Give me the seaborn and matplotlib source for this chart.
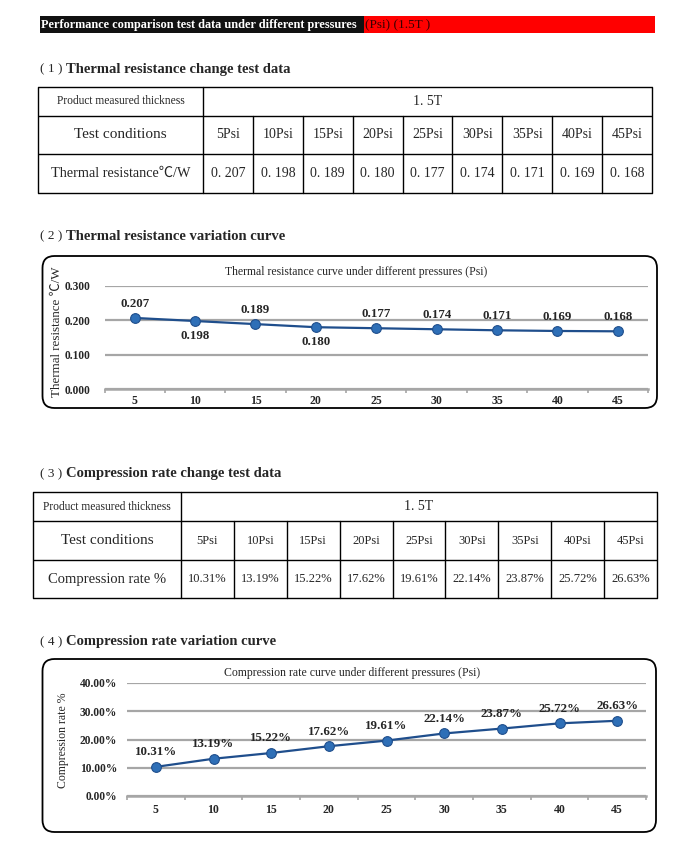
import numpy as np
import pandas as pd
import seaborn as sns
import matplotlib.pyplot as plt
from matplotlib.patches import FancyBboxPatch, Rectangle
from matplotlib.ticker import FixedLocator

# Data
pressures = [5, 10, 15, 20, 25, 30, 35, 40, 45]
psi_labels = ["5Psi", "10Psi", "15Psi", "20Psi", "25Psi", "30Psi", "35Psi", "40Psi", "45Psi"]
thermal_res = [0.207, 0.198, 0.189, 0.180, 0.177, 0.174, 0.171, 0.169, 0.168]
thermal_below = [False, True, False, True, False, False, False, False, False]
compression = [10.31, 13.19, 15.22, 17.62, 19.61, 22.14, 23.87, 25.72, 26.63]
thickness = "1. 5T"

sns.set_theme(style="white")
plt.rcParams["font.family"] = ["Liberation Serif", "Noto Sans CJK SC", "DejaVu Sans"]

W, H = 700, 848
fig = plt.figure(figsize=(7, 8.48), dpi=100)
fig.patch.set_facecolor("white")

page = fig.add_axes([0, 0, 1, 1])
page.set_xlim(0, W)
page.set_ylim(H, 0)
page.axis("off")
page.set_zorder(0)


def px_rect(x0, y0, x1, y1):
    return [x0 / W, 1 - y1 / H, (x1 - x0) / W, (y1 - y0) / H]


# Header bar
page.add_patch(Rectangle((40, 16), 324, 17, color="#111111", lw=0))
page.add_patch(Rectangle((364, 16), 291, 17, color="#ff0000", lw=0))
page.text(41, 24.8, "Performance comparison test data under different pressures",
          color="white", fontsize=8.8, fontweight="bold", va="center")
page.text(365, 24.8, "(Psi) (1.5T )", color="#3a0000", fontsize=9.5, va="center")


def section_title(y, num, text):
    page.text(40, y, f"( {num} )", fontsize=9.5, va="center")
    page.text(66, y, text, fontsize=10.5, fontweight="bold", va="center")


def draw_table(x0, x1, sep, ys, row_titles, values, fs_vals, fs_title):
    lw = 1.0
    ncol = len(values[0])
    colw = (x1 - sep) / ncol
    for y in ys:
        page.plot([x0, x1], [y, y], color="black", lw=lw, solid_capstyle="butt")
    page.plot([x0, x0], [ys[0], ys[-1]], color="black", lw=lw)
    page.plot([x1, x1], [ys[0], ys[-1]], color="black", lw=lw)
    page.plot([sep, sep], [ys[0], ys[-1]], color="black", lw=lw)
    for i in range(1, ncol):
        xc = sep + i * colw
        page.plot([xc, xc], [ys[1], ys[-1]], color="black", lw=lw)
    # first row is merged across the value columns
    yc = (ys[0] + ys[1]) / 2
    page.text((x0 + sep) / 2, yc, "Product measured thickness", fontsize=8.3,
              ha="center", va="center")
    page.text((sep + x1) / 2, yc, thickness, fontsize=10, ha="center", va="center")
    for r in range(2):
        yc = (ys[r + 1] + ys[r + 2]) / 2
        page.text((x0 + sep) / 2, yc, row_titles[r], fontsize=fs_title[r],
                  ha="center", va="center")
        for i, v in enumerate(values[r]):
            page.text(sep + (i + 0.5) * colw, yc, v, fontsize=fs_vals[r],
                      ha="center", va="center")


def rounded_box(x0, y0, x1, y1):
    page.add_patch(FancyBboxPatch((x0, y0), x1 - x0, y1 - y0,
                                  boxstyle="round,pad=0,rounding_size=12",
                                  fc="none", ec="black", lw=1.3))


line_c = "#1F4E8C"
mark_c = "#2E6FB7"
grid_c = "#A6A6A6"


def style_chart(ax, ymax, ystep, yfmt, label_pad, xpad):
    ax.set_facecolor("none")
    ax.set_xlim(2.5, 47.5)
    ax.set_ylim(0, ymax)
    yt = np.arange(0, ymax + ystep / 2, ystep)
    ax.set_yticks(yt)
    ax.set_yticklabels([yfmt(v) for v in yt], fontweight="bold", fontsize=8.3)
    ax.set_xticks(pressures)
    ax.set_xticklabels([str(p) for p in pressures], fontweight="bold", fontsize=8.5)
    ax.xaxis.set_minor_locator(FixedLocator(np.arange(2.5, 48, 5)))
    ax.tick_params(axis="x", which="major", length=0, pad=xpad)
    ax.tick_params(axis="x", which="minor", length=3, width=1.2, color=grid_c,
                   direction="out", bottom=True)
    ax.tick_params(axis="y", length=0, pad=label_pad)
    ax.yaxis.grid(True, color=grid_c, lw=1.6)
    ax.set_axisbelow(True)
    for s in ["top", "right", "left"]:
        ax.spines[s].set_visible(False)
    ax.spines["bottom"].set_color(grid_c)
    ax.spines["bottom"].set_linewidth(1.8)
    ax.set_xlabel("")
    ax.set_ylabel("")


# (1) Thermal resistance table
section_title(69, 1, "Thermal resistance change test data")
draw_table(38, 652, 203, [87, 116, 154, 193],
           ["Test conditions", "Thermal resistance℃/W"],
           [psi_labels, [f"{v:.3f}".replace(".", ". ") for v in thermal_res]],
           fs_vals=[10, 10], fs_title=[11, 10.3])

# (2) Thermal resistance curve
section_title(236, 2, "Thermal resistance variation curve")
rounded_box(42.5, 256, 657, 408)
page.text(356, 272, "Thermal resistance curve under different pressures (Psi)",
          fontsize=8.5, ha="center", va="center")
page.text(57, 332, "Thermal resistance ℃/W", fontsize=9.4, rotation=90,
          ha="center", va="center")

ax2 = fig.add_axes(px_rect(104.5, 286, 648, 389))
ax2.set_zorder(2)
df_t = pd.DataFrame({"pressure": pressures, "value": thermal_res})
sns.lineplot(data=df_t, x="pressure", y="value", ax=ax2, color=line_c, lw=1.6,
             marker="o", markersize=7, markerfacecolor=mark_c,
             markeredgecolor=line_c, markeredgewidth=0.8)
style_chart(ax2, 0.3, 0.1, lambda v: f"{v:.3f}", 10, 4)
for p, v, below in zip(pressures, thermal_res, thermal_below):
    ax2.annotate(f"{v:.3f}", (p, v), xytext=(0, -11 if below else 10),
                 textcoords="offset points", ha="center", va="center",
                 fontsize=9.3, fontweight="bold")

# (3) Compression rate table
section_title(474, 3, "Compression rate change test data")
draw_table(33, 657, 181, [492, 521, 560, 598],
           ["Test conditions", "Compression rate %"],
           [psi_labels, [f"{v:.2f}%" for v in compression]],
           fs_vals=[9, 9], fs_title=[11, 10.5])

# (4) Compression rate curve
section_title(642, 4, "Compression rate variation curve")
rounded_box(42.5, 659, 656, 832)
page.text(352, 673, "Compression rate curve under different pressures (Psi)",
          fontsize=8.5, ha="center", va="center")
page.text(63, 740, "Compression rate %", fontsize=8.5, rotation=90,
          ha="center", va="center")

ax4 = fig.add_axes(px_rect(127, 683, 646, 796))
ax4.set_zorder(2)
df_c = pd.DataFrame({"pressure": pressures, "value": compression})
sns.lineplot(data=df_c, x="pressure", y="value", ax=ax4, color=line_c, lw=1.6,
             marker="o", markersize=7, markerfacecolor=mark_c,
             markeredgecolor=line_c, markeredgewidth=0.8)
style_chart(ax4, 40, 10, lambda v: f"{v:.2f}%", 7, 6)
for p, v in zip(pressures, compression):
    ax4.annotate(f"{v:.2f}%", (p, v), xytext=(0, 10.5),
                 textcoords="offset points", ha="center", va="center",
                 fontsize=9.3, fontweight="bold")

fig.savefig("out.png", dpi=100)
